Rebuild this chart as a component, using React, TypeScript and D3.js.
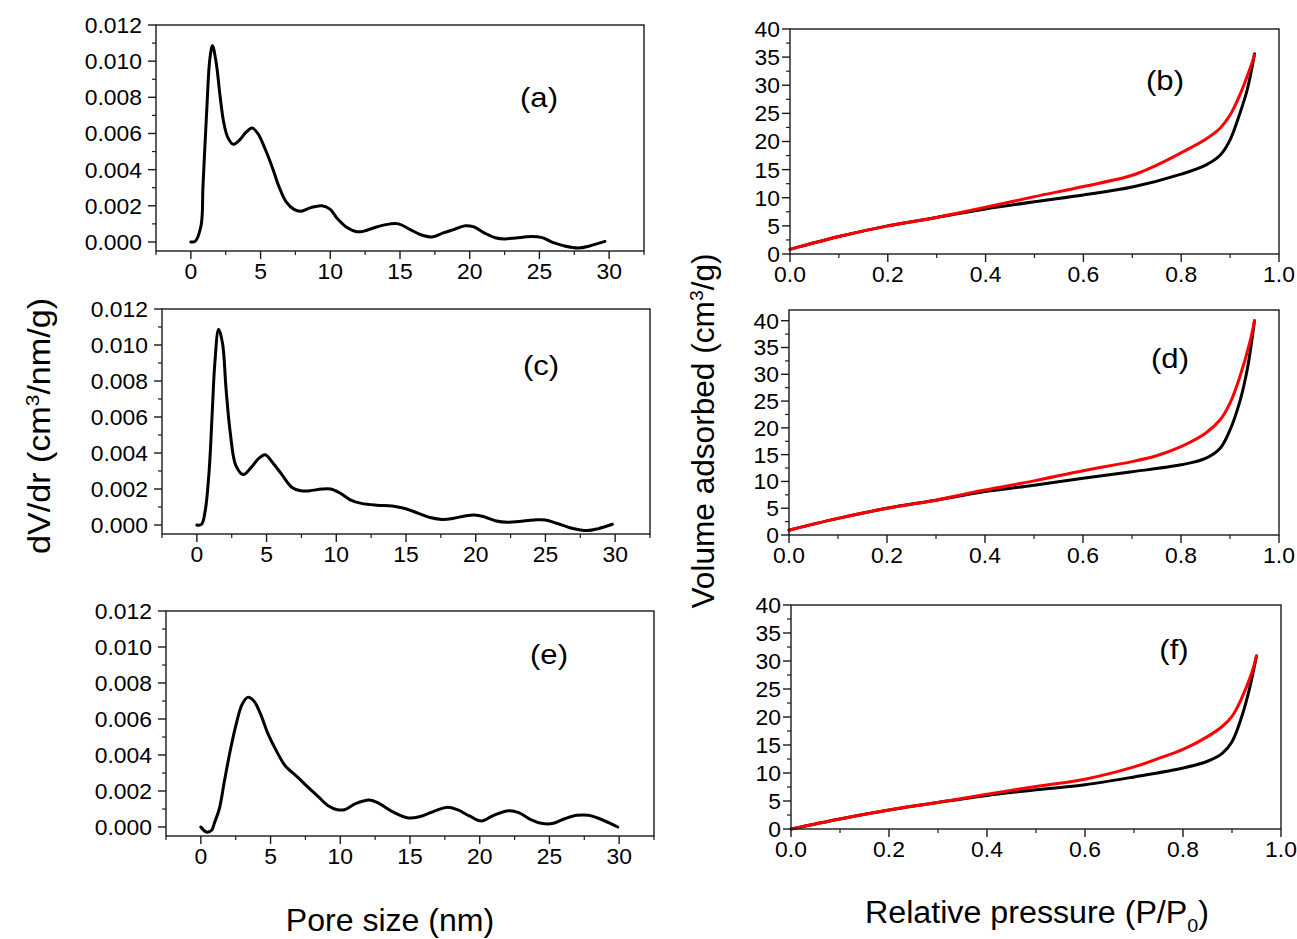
import React from "react";
import * as d3 from "d3";

// ---------- data ----------
const poreMajorTicks = [0, 5, 10, 15, 20, 25, 30];
const poreMinorTicks = [-2.5, 2.5, 7.5, 12.5, 17.5, 22.5, 27.5, 32.5];
const dvdrMajorTicks = [0, 0.002, 0.004, 0.006, 0.008, 0.01, 0.012];
const dvdrMinorTicks = [0.001, 0.003, 0.005, 0.007, 0.009, 0.011];
const pressMajorTicks = [0, 0.2, 0.4, 0.6, 0.8, 1.0];
const pressMinorTicks = [0.1, 0.3, 0.5, 0.7, 0.9];
const volMajorTicks = [0, 5, 10, 15, 20, 25, 30, 35, 40];
const volMinorTicks = [2.5, 7.5, 12.5, 17.5, 22.5, 27.5, 32.5, 37.5];

const poreSizeA = [0, 0.3, 0.73, 0.87, 1.14, 1.36, 1.55, 1.82, 2.09, 2.36, 2.64, 3.04, 3.45, 4.0, 4.4, 4.8, 5.35, 5.9, 6.3, 6.85, 7.4, 7.9, 8.6, 9.4, 10.0, 10.5, 11.2, 11.9, 12.4, 13.2, 14.3, 14.9, 15.7, 16.5, 17.3, 18.1, 18.9, 19.7, 20.3, 21.1, 21.9, 22.5, 23.3, 24.4, 25.2, 26.0, 26.8, 27.8, 28.6, 29.7];
const dvdrA = [0, 0.00003, 0.0009, 0.0031, 0.0073, 0.0101, 0.01085, 0.0099, 0.0081, 0.0066, 0.0058, 0.0054, 0.0056, 0.0061, 0.0063, 0.006, 0.0051, 0.004, 0.0031, 0.0022, 0.0018, 0.0017, 0.0019, 0.002, 0.0018, 0.0013, 0.0008, 0.00057, 0.0006, 0.0008, 0.001, 0.001, 0.0007, 0.0004, 0.00028, 0.0005, 0.0007, 0.0009, 0.00083, 0.00048, 0.00022, 0.00017, 0.00022, 0.0003, 0.00024, -0.00004, -0.00022, -0.00033, -0.00022, 0.00003];

const poreSizeC = [0, 0.33, 0.6, 0.88, 1.1, 1.29, 1.56, 1.84, 2.1, 2.4, 2.8, 3.34, 3.9, 4.44, 4.9, 5.4, 6.1, 6.8, 7.45, 8.1, 8.96, 9.6, 10.3, 11.0, 11.8, 12.9, 14.0, 14.85, 15.9, 16.8, 17.6, 18.4, 19.2, 19.9, 20.6, 21.4, 22.3, 23.1, 24.2, 25.0, 25.8, 26.9, 28.0, 28.8, 29.8];
const dvdrC = [0, 0.00003, 0.0008, 0.003, 0.0062, 0.009, 0.01087, 0.0101, 0.0075, 0.0051, 0.0033, 0.0028, 0.0032, 0.0037, 0.0039, 0.0035, 0.0028, 0.0021, 0.0019, 0.0019, 0.002, 0.002, 0.00176, 0.0014, 0.0012, 0.0011, 0.00106, 0.00093, 0.00065, 0.0004, 0.00031, 0.00037, 0.0005, 0.00056, 0.00046, 0.00024, 0.00015, 0.00019, 0.00028, 0.00028, 0.0001, -0.00018, -0.00031, -0.0002, 0.00004];

const poreSizeE = [0, 0.4, 0.77, 0.96, 1.32, 1.7, 2.15, 2.53, 2.95, 3.36, 3.8, 4.27, 4.8, 5.37, 6.05, 6.9, 7.7, 8.4, 9.1, 9.8, 10.3, 11.1, 12.1, 12.8, 13.8, 14.9, 15.8, 16.8, 17.7, 18.4, 19.3, 20.1, 21.0, 22.1, 22.8, 23.7, 24.5, 25.2, 26.1, 26.97, 27.8, 28.6, 29.4, 29.9];
const dvdrE = [0, -0.00028, -0.00018, 0.0002, 0.001, 0.0026, 0.0044, 0.0057, 0.0068, 0.0072, 0.007, 0.0063, 0.0052, 0.0043, 0.0034, 0.0028, 0.0022, 0.0017, 0.0012, 0.00096, 0.00096, 0.0013, 0.0015, 0.0013, 0.00083, 0.0005, 0.0006, 0.0009, 0.0011, 0.00096, 0.0006, 0.00033, 0.00065, 0.0009, 0.0008, 0.0004, 0.00019, 0.00019, 0.00046, 0.00065, 0.00065, 0.00046, 0.00019, 0];

const pressureAds = [0, 0.1, 0.2, 0.3, 0.4, 0.5, 0.6, 0.7, 0.8, 0.85, 0.88, 0.9, 0.92, 0.935, 0.95];
const pressureDes = [0, 0.1, 0.2, 0.3, 0.4, 0.5, 0.6, 0.7, 0.75, 0.8, 0.85, 0.88, 0.9, 0.92, 0.94, 0.95];

const adsB = [0.83, 3.1, 5.0, 6.5, 8.0, 9.3, 10.5, 11.9, 14.2, 15.8, 17.6, 20.3, 25, 29.2, 35.6];
const desB = [0.83, 3.1, 5.0, 6.5, 8.3, 10.2, 12.0, 14.0, 15.8, 18.0, 20.4, 22.4, 24.7, 28.3, 32.8, 35.4];
const adsD = [0.9, 3.1, 5.0, 6.5, 8.1, 9.3, 10.6, 11.8, 13.1, 14.3, 16.2, 19.6, 24.9, 30.8, 40];
const desD = [0.9, 3.1, 5.0, 6.5, 8.4, 10.1, 12.0, 13.7, 14.8, 16.5, 19.0, 21.5, 24.6, 29.5, 35.8, 40];
const adsF = [0, 1.8, 3.4, 4.75, 6.0, 7.0, 7.9, 9.3, 10.9, 12.1, 13.5, 15.6, 20.1, 24.8, 30.9];
const desF = [0, 1.8, 3.4, 4.75, 6.2, 7.6, 8.9, 11.1, 12.6, 14.2, 16.5, 18.3, 20.1, 23.4, 27.8, 30.9];

// ---------- layout ----------
const FONT = "'Liberation Sans', Arial, Helvetica, sans-serif";

type Series = { xs: number[]; ys: number[]; color: string };
type PanelCfg = {
  label: string;
  left: number; right: number; top: number; bottom: number;
  xDomain: [number, number]; yDomain: [number, number];
  xMajor: number[]; xMinor: number[]; yMajor: number[]; yMinor: number[];
  fmtX: (v: number) => string; fmtY: (v: number) => string;
  series: Series[];
  labelX: number; labelY: number; yGap: number;
};

const fmtPore = (v: number) => String(v);
const fmtDvdr = (v: number) => v.toFixed(3);
const fmtPress = (v: number) => v.toFixed(1);
const fmtVol = (v: number) => String(v);

const panels: PanelCfg[] = [
  {
    label: "(a)", left: 156, right: 644, top: 25, bottom: 251,
    xDomain: [-2.5, 32.5], yDomain: [-0.0005, 0.012],
    xMajor: poreMajorTicks, xMinor: poreMinorTicks, yMajor: dvdrMajorTicks, yMinor: dvdrMinorTicks,
    fmtX: fmtPore, fmtY: fmtDvdr,
    series: [{ xs: poreSizeA, ys: dvdrA, color: "#000" }],
    labelX: 539, labelY: 107, yGap: 14,
  },
  {
    label: "(c)", left: 162, right: 650, top: 309, bottom: 534,
    xDomain: [-2.5, 32.5], yDomain: [-0.0005, 0.012],
    xMajor: poreMajorTicks, xMinor: poreMinorTicks, yMajor: dvdrMajorTicks, yMinor: dvdrMinorTicks,
    fmtX: fmtPore, fmtY: fmtDvdr,
    series: [{ xs: poreSizeC, ys: dvdrC, color: "#000" }],
    labelX: 541, labelY: 375, yGap: 14,
  },
  {
    label: "(e)", left: 166, right: 654, top: 611, bottom: 836,
    xDomain: [-2.5, 32.5], yDomain: [-0.0005, 0.012],
    xMajor: poreMajorTicks, xMinor: poreMinorTicks, yMajor: dvdrMajorTicks, yMinor: dvdrMinorTicks,
    fmtX: fmtPore, fmtY: fmtDvdr,
    series: [{ xs: poreSizeE, ys: dvdrE, color: "#000" }],
    labelX: 549, labelY: 664, yGap: 14,
  },
  {
    label: "(b)", left: 790, right: 1279, top: 29, bottom: 254,
    xDomain: [0, 1], yDomain: [0, 40],
    xMajor: pressMajorTicks, xMinor: pressMinorTicks, yMajor: volMajorTicks, yMinor: volMinorTicks,
    fmtX: fmtPress, fmtY: fmtVol,
    series: [
      { xs: pressureAds, ys: adsB, color: "#000" },
      { xs: pressureDes, ys: desB, color: "#ff0000" },
    ],
    labelX: 1165, labelY: 90, yGap: 10,
  },
  {
    label: "(d)", left: 789, right: 1279, top: 310, bottom: 535,
    xDomain: [0, 1], yDomain: [0, 42],
    xMajor: pressMajorTicks, xMinor: pressMinorTicks, yMajor: volMajorTicks, yMinor: volMinorTicks,
    fmtX: fmtPress, fmtY: fmtVol,
    series: [
      { xs: pressureAds, ys: adsD, color: "#000" },
      { xs: pressureDes, ys: desD, color: "#ff0000" },
    ],
    labelX: 1170, labelY: 368, yGap: 10,
  },
  {
    label: "(f)", left: 791, right: 1281, top: 605, bottom: 829,
    xDomain: [0, 1], yDomain: [0, 40],
    xMajor: pressMajorTicks, xMinor: pressMinorTicks, yMajor: volMajorTicks, yMinor: volMinorTicks,
    fmtX: fmtPress, fmtY: fmtVol,
    series: [
      { xs: pressureAds, ys: adsF, color: "#000" },
      { xs: pressureDes, ys: desF, color: "#ff0000" },
    ],
    labelX: 1174, labelY: 659, yGap: 10,
  },
];

const AXIS = "#1a1a1a";
const TICK_FS = 22;
const TICK_SX = 1.04;

function Panel({ cfg }: { cfg: PanelCfg }) {
  const x = d3.scaleLinear().domain(cfg.xDomain).range([cfg.left, cfg.right]);
  const y = d3.scaleLinear().domain(cfg.yDomain).range([cfg.bottom, cfg.top]);
  const line = d3
    .line<[number, number]>()
    .x((d) => x(d[0]))
    .y((d) => y(d[1]))
    .curve(d3.curveCatmullRom.alpha(0.5));
  const yIn = (v: number) => v >= cfg.yDomain[0] - 1e-9 && v <= cfg.yDomain[1] + 1e-9;
  return (
    <g>
      {cfg.series.map((s, i) => (
        <path
          key={i}
          d={line(s.xs.map((xv, j) => [xv, s.ys[j]] as [number, number])) || ""}
          fill="none"
          stroke={s.color}
          strokeWidth={3}
          strokeLinejoin="round"
          strokeLinecap="round"
        />
      ))}
      <rect
        x={cfg.left}
        y={cfg.top}
        width={cfg.right - cfg.left}
        height={cfg.bottom - cfg.top}
        fill="none"
        stroke={AXIS}
        strokeWidth={1.4}
      />
      {cfg.xMajor.map((v) => (
        <g key={"xM" + v}>
          <line x1={x(v)} x2={x(v)} y1={cfg.bottom} y2={cfg.bottom + 8} stroke={AXIS} strokeWidth={1.4} />
          <text
            transform={`translate(${x(v)},${cfg.bottom + 28}) scale(${TICK_SX},1)`}
            textAnchor="middle"
            fontSize={TICK_FS}
            fontFamily={FONT}
            fill="#000"
          >
            {cfg.fmtX(v)}
          </text>
        </g>
      ))}
      {cfg.xMinor.map((v) => (
        <line key={"xm" + v} x1={x(v)} x2={x(v)} y1={cfg.bottom} y2={cfg.bottom + 4} stroke={AXIS} strokeWidth={1.2} />
      ))}
      {cfg.yMajor.filter(yIn).map((v) => (
        <g key={"yM" + v}>
          <line x1={cfg.left - 8} x2={cfg.left} y1={y(v)} y2={y(v)} stroke={AXIS} strokeWidth={1.4} />
          <text
            transform={`translate(${cfg.left - cfg.yGap},${y(v)}) scale(${TICK_SX},1)`}
            dy="0.36em"
            textAnchor="end"
            fontSize={TICK_FS}
            fontFamily={FONT}
            fill="#000"
          >
            {cfg.fmtY(v)}
          </text>
        </g>
      ))}
      {cfg.yMinor.filter(yIn).map((v) => (
        <line key={"ym" + v} x1={cfg.left - 4} x2={cfg.left} y1={y(v)} y2={y(v)} stroke={AXIS} strokeWidth={1.2} />
      ))}
      <text
        transform={`translate(${cfg.labelX},${cfg.labelY}) scale(1.15,1)`}
        textAnchor="middle"
        fontSize={27}
        fontFamily={FONT}
        fill="#000"
      >
        {cfg.label}
      </text>
    </g>
  );
}

export default function App() {
  return (
    <svg
      width={1297}
      height={939}
      style={{ position: "absolute", left: 0, top: 0, background: "#fff" }}
      fontFamily={FONT}
    >
      <rect x={0} y={0} width={1297} height={939} fill="#fff" />
      {panels.map((p) => (
        <Panel key={p.label} cfg={p} />
      ))}
      <text transform="translate(50,426) rotate(-90) scale(1.1,1)" textAnchor="middle" fontSize={31} fill="#000">
        dV/dr (cm<tspan dy="-11" fontSize={19}>3</tspan>
        <tspan dy="11">/nm/g)</tspan>
      </text>
      <text transform="translate(714,431) rotate(-90) scale(1.02,1)" textAnchor="middle" fontSize={31} fill="#000">
        Volume adsorbed (cm<tspan dy="-11" fontSize={19}>3</tspan>
        <tspan dy="11">/g)</tspan>
      </text>
      <text transform="translate(390,931) scale(1.035,1)" textAnchor="middle" fontSize={31} fill="#000">
        Pore size (nm)
      </text>
      <text transform="translate(1037,923) scale(1.04,1)" textAnchor="middle" fontSize={31} fill="#000">
        Relative pressure (P/P<tspan dy="9" fontSize={19}>0</tspan>
        <tspan dy="-9">)</tspan>
      </text>
    </svg>
  );
}
